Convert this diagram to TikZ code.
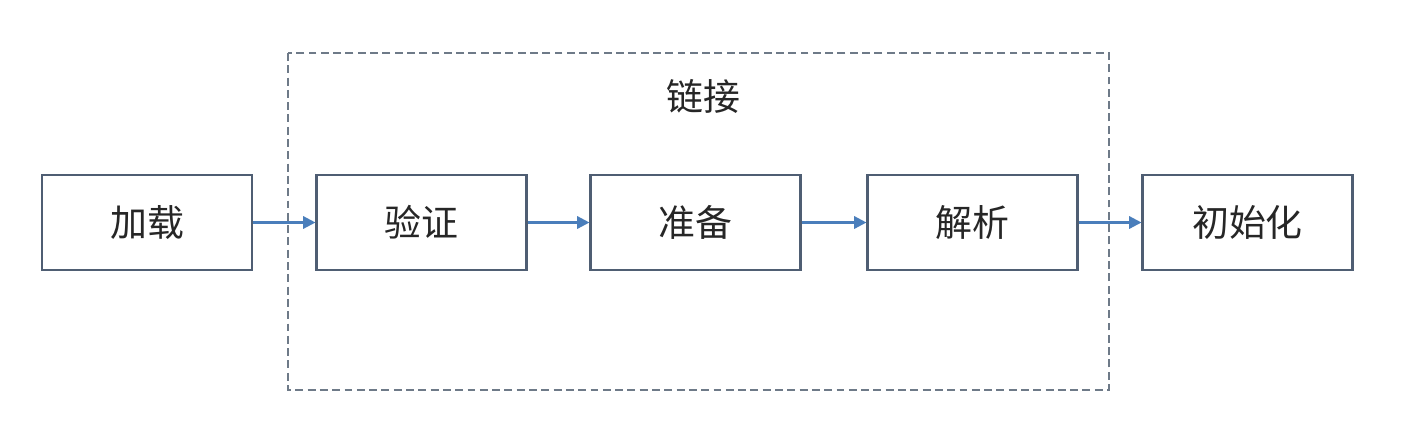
\documentclass[tikz,border=0pt]{standalone}
\usepackage{fontspec}
\newfontfamily\cjk{Noto Sans CJK SC}
\usetikzlibrary{arrows.meta}
\definecolor{boxline}{HTML}{4F5E73}
\definecolor{dashline}{HTML}{6E7A88}
\definecolor{arrowc}{HTML}{4A7EBB}
\definecolor{txt}{HTML}{262626}
\begin{document}
\begin{tikzpicture}[x=0.02cm,y=-0.02cm,
  stepbox/.style={draw=boxline,line width=1.2pt,minimum width=4.2cm,minimum height=1.9cm,inner sep=0pt,
    font=\cjk\fontsize{21}{24}\selectfont,text=txt},
  flow/.style={draw=arrowc,line width=1.3pt,-{Triangle[length=7pt,width=7pt]}}]
\useasboundingbox (0,0) rectangle (1408,420);
\fill[white] (0,0) rectangle (1408,420);
\draw[dashline,line width=1.5pt,dash pattern=on 4.5pt off 2.5pt] (288,53) rectangle (1109,390);
\node[font=\cjk\fontsize{21}{24}\selectfont,text=txt] (lbl) at (703,96) {链接};
\node[stepbox] (a) at (147,222.5) {加载};
\node[stepbox] (b) at (421.5,222.5) {验证};
\node[stepbox] (c) at (695.5,222.5) {准备};
\node[stepbox] (d) at (972.5,222.5) {解析};
\node[stepbox] (e) at (1247.5,222.5) {初始化};
\draw[flow] (a) -- (b);
\draw[flow] (b) -- (c);
\draw[flow] (c) -- (d);
\draw[flow] (d) -- (e);
\end{tikzpicture}
\end{document}
